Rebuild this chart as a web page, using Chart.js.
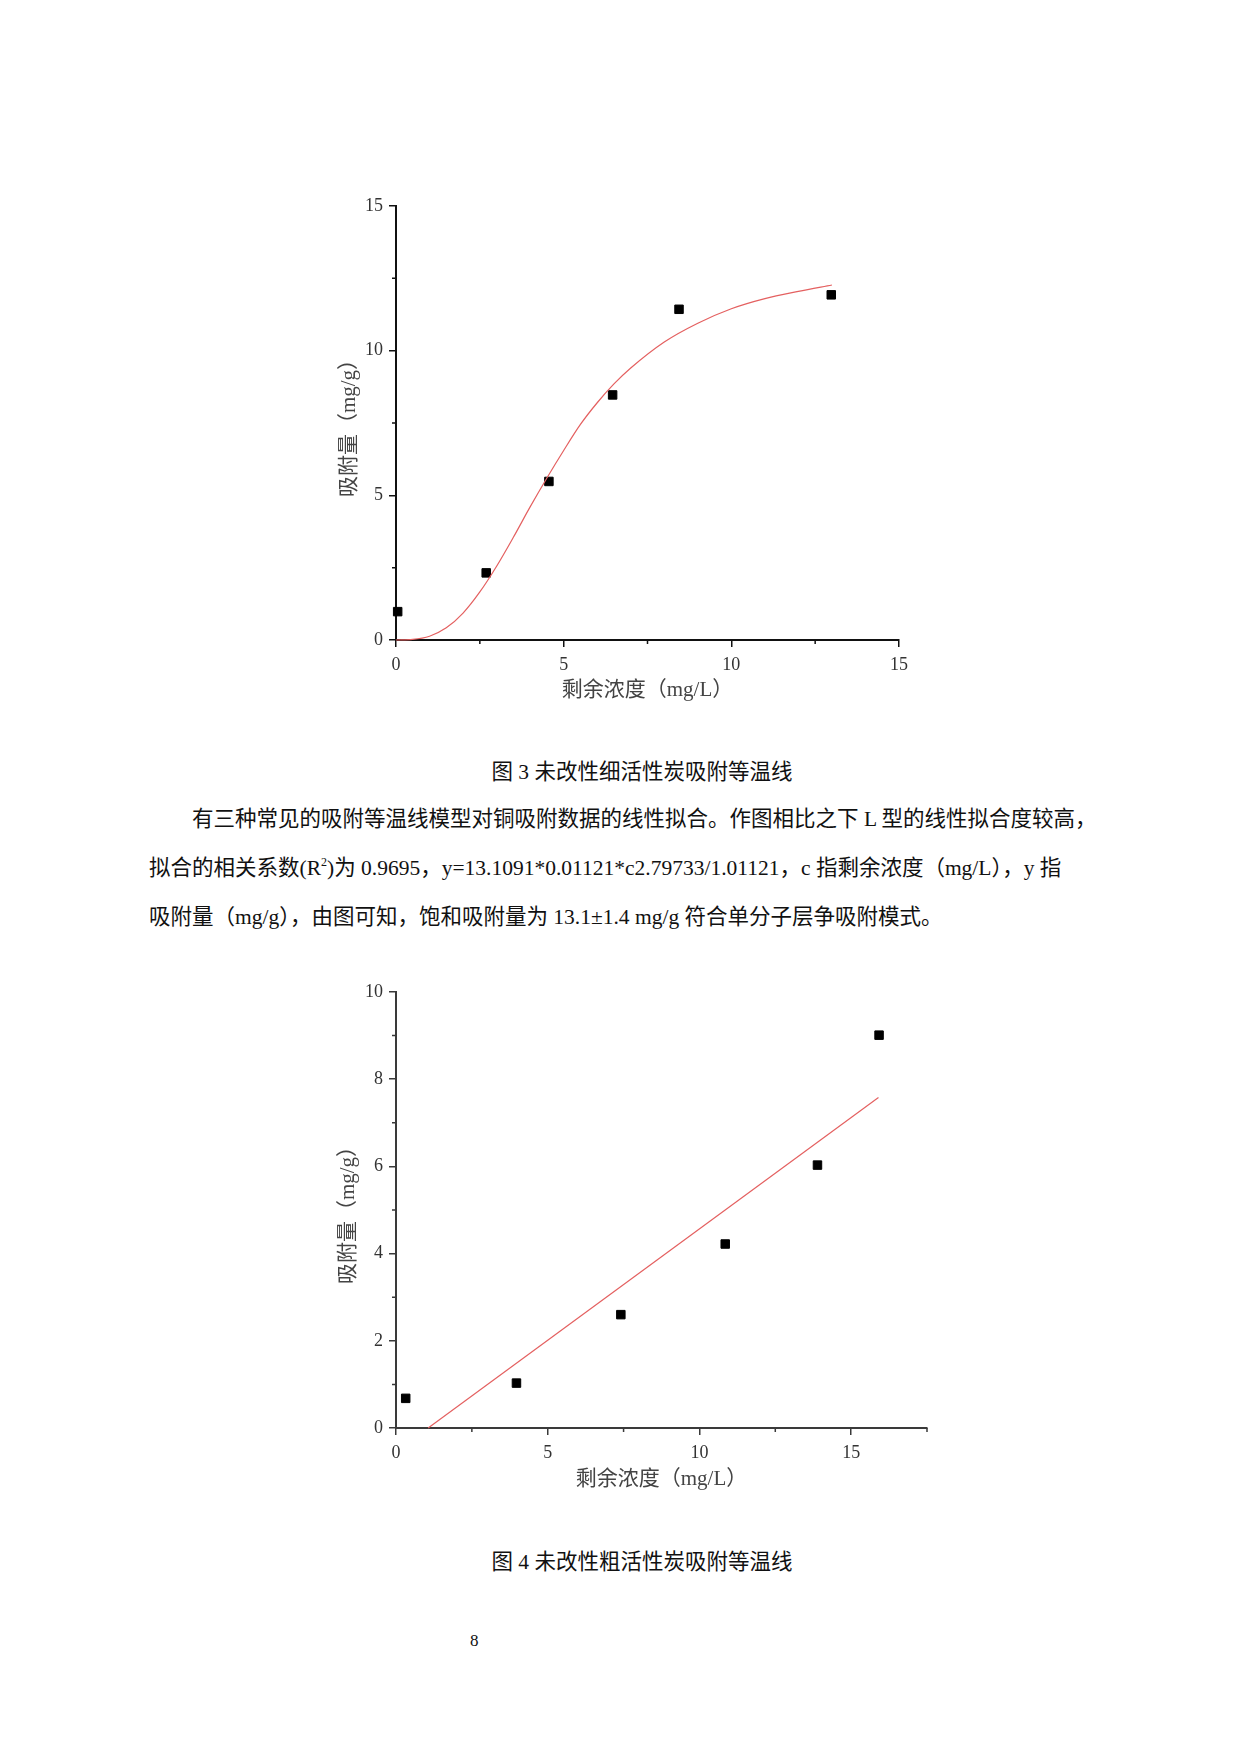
<!DOCTYPE html>
<html>
<head>
<meta charset="utf-8">
<script src="https://cdn.jsdelivr.net/npm/chart.js@4.4.1/dist/chart.umd.min.js"></script>
<style>
  body { margin: 0; background: #fff; }
  #page { position: relative; width: 1240px; height: 1754px; background: #fff; overflow: hidden;
          font-family: "Liberation Serif", "Noto Sans CJK SC", serif; color: #111; }
  .t { position: absolute; white-space: nowrap; font-size: 21.5px; line-height: 1; }
  .c { transform: translateX(-50%); }
  canvas { position: absolute; }
</style>
</head>
<body>
<div id="page">
  <canvas id="fig3" width="640" height="540" style="left:300px;top:180px;"></canvas>
  <div class="t c" style="left:642px;top:762px;">图 3 未改性细活性炭吸附等温线</div>
  <div class="t" style="left:192px;top:809px;">有三种常见的吸附等温线模型对铜吸附数据的线性拟合。作图相比之下 L 型的线性拟合度较高，</div>
  <div class="t" style="left:149px;top:858px;">拟合的相关系数(R<sup style="font-size:12px;vertical-align:9px;line-height:0">2</sup>)为 0.9695，y=13.1091*0.01121*c2.79733/1.01121，c 指剩余浓度（mg/L），y 指</div>
  <div class="t" style="left:149px;top:907px;">吸附量（mg/g），由图可知，饱和吸附量为 13.1±1.4 mg/g 符合单分子层争吸附模式。</div>
  <canvas id="fig4" width="660" height="540" style="left:300px;top:960px;"></canvas>
  <div class="t c" style="left:642px;top:1552px;">图 4 未改性粗活性炭吸附等温线</div>
  <div class="t" style="left:470px;top:1632px;font-size:17px;">8</div>
</div>
<script>
// 图3 数据点 (剩余浓度 mg/L, 吸附量 mg/g)
const conc3 = [0.05, 2.69, 4.56, 6.46, 8.44, 12.98]
const ads3 = [0.98, 2.32, 5.48, 8.47, 11.43, 11.93]
// 图3 拟合曲线
const fitX3 = [0, 0.5, 1, 1.5, 2, 2.5, 3, 3.5, 4, 4.5, 5, 5.5, 6, 6.5, 7, 8, 9, 10, 11, 12, 13]
const fitY3 = [0, 0.02, 0.13, 0.42, 0.93, 1.66, 2.55, 3.55, 4.6, 5.6, 6.55, 7.45, 8.2, 8.85, 9.4, 10.3, 10.95, 11.45, 11.8, 12.05, 12.27]
const xTicks3 = [0, 5, 10, 15]
const yTicks3 = [0, 5, 10, 15]
const xMinor3 = [2.5, 7.5, 12.5]
const yMinor3 = [2.5, 7.5, 12.5]

// 图4 数据点
const conc4 = [0.32, 3.97, 7.41, 10.85, 13.89, 15.92]
const ads4 = [0.68, 1.03, 2.60, 4.22, 6.03, 9.01]
// 图4 拟合直线端点
const fitX4 = [1.06, 15.9]
const fitY4 = [0, 7.58]
const xTicks4 = [0, 5, 10, 15]
const yTicks4 = [0, 2, 4, 6, 8, 10]
const xMinor4 = [2.5, 7.5, 12.5, 17.5]
const yMinor4 = [1, 3, 5, 7, 9]

const xTitle = '剩余浓度（mg/L）'
const yTitle = '吸附量（mg/g）'

const pts = (xs, ys) => xs.map((x, i) => ({ x: x, y: ys[i] }))

// petits traits des graduations secondaires
const minorTicks = {
    id: 'minorTicks',
    afterDraw(chart, args, opts) {
        const ctx = chart.ctx
        const xs = chart.scales.x, ys = chart.scales.y
        ctx.save()
        ctx.strokeStyle = opts.color
        ctx.lineWidth = 1.5
        ctx.beginPath()
        opts.x.forEach(v => {
            const p = xs.getPixelForValue(v)
            ctx.moveTo(p, xs.top)
            ctx.lineTo(p, xs.top + 4)
        })
        opts.y.forEach(v => {
            const p = ys.getPixelForValue(v)
            ctx.moveTo(ys.right, p)
            ctx.lineTo(ys.right - 4, p)
        })
        ctx.stroke()
        ctx.restore()
    }
}

function makeChart(id, cfg) {
    const axisCol = cfg.axisColor
    const tickFont = { family: '"Liberation Serif", serif', size: 18 }
    const titleFont = { family: '"Liberation Serif", "Noto Sans CJK SC", serif', size: 21 }
    return new Chart(document.getElementById(id), {
        type: 'scatter',
        data: {
            datasets: [
                {
                    data: cfg.fit,
                    showLine: true,
                    pointRadius: 0,
                    borderColor: 'rgb(228, 96, 96)',
                    borderWidth: 1.2,
                    cubicInterpolationMode: 'monotone',
                    clip: false
                },
                {
                    data: cfg.points,
                    pointStyle: 'rect',
                    pointRadius: 6,
                    backgroundColor: '#000',
                    borderColor: '#000',
                    borderWidth: 1,
                    clip: false
                }
            ]
        },
        options: {
            responsive: false,
            animation: false,
            layout: { padding: cfg.padding },
            plugins: {
                legend: { display: false },
                tooltip: { enabled: false },
                minorTicks: { x: cfg.xMinor, y: cfg.yMinor, color: axisCol }
            },
            scales: {
                x: {
                    type: 'linear',
                    min: 0,
                    max: cfg.xMax,
                    afterBuildTicks: s => { s.ticks = cfg.xTicks.map(v => ({ value: v })) },
                    afterFit: s => { s.height = cfg.xHeight; s.paddingLeft = 0; s.paddingRight = 0 },
                    grid: { drawOnChartArea: false, tickLength: 7, color: axisCol, lineWidth: 1.5 },
                    border: { color: axisCol, width: 2 },
                    ticks: { color: '#333', font: tickFont, padding: 7, maxRotation: 0 },
                    title: { display: true, text: xTitle, color: '#444', font: titleFont, padding: { top: 0, bottom: cfg.xTitlePad } }
                },
                y: {
                    type: 'linear',
                    min: 0,
                    max: cfg.yMax,
                    afterBuildTicks: s => { s.ticks = cfg.yTicks.map(v => ({ value: v })) },
                    afterFit: s => { s.width = 96 },
                    grid: { drawOnChartArea: false, tickLength: 7, color: axisCol, lineWidth: 1.5 },
                    border: { color: axisCol, width: 2 },
                    ticks: { color: '#333', font: tickFont, padding: 6 },
                    title: { display: true, text: yTitle, color: '#444', font: titleFont, padding: { top: cfg.yTitlePad, bottom: 0 } }
                }
            }
        },
        plugins: [minorTicks]
    })
}

makeChart('fig3', {
    points: pts(conc3, ads3),
    fit: pts(fitX3, fitY3),
    xTicks: xTicks3, yTicks: yTicks3, xMinor: xMinor3, yMinor: yMinor3,
    xMax: 15, yMax: 15,
    padding: { left: 0, right: 41, top: 26, bottom: 0 },
    xHeight: 80, xTitlePad: 17, yTitlePad: 37,
    axisColor: '#111'
})

makeChart('fig4', {
    points: pts(conc4, ads4),
    fit: pts(fitX4, fitY4),
    xTicks: xTicks4, yTicks: yTicks4, xMinor: xMinor4, yMinor: yMinor4,
    xMax: 17.5, yMax: 10,
    padding: { left: 0, right: 33, top: 32, bottom: 0 },
    xHeight: 72, xTitlePad: 8, yTitlePad: 36,
    axisColor: '#3a3a3a'
})
</script>
</body>
</html>
